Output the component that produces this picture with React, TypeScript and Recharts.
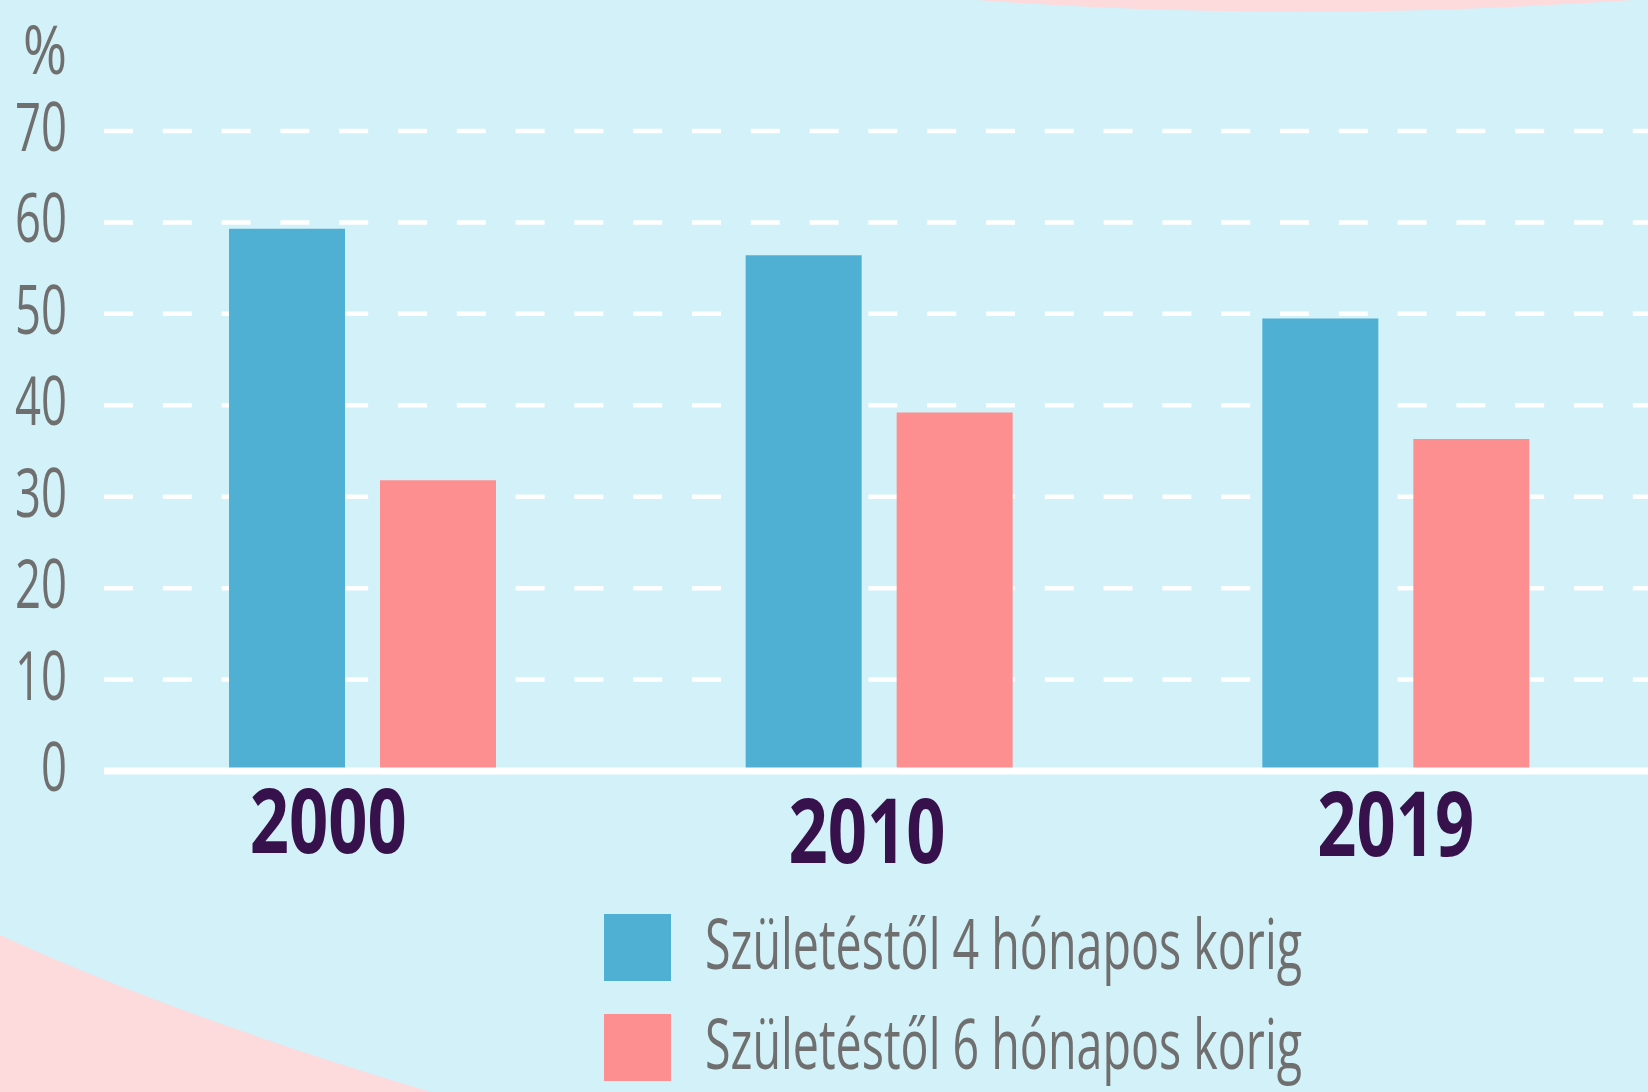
import { BarChart, Bar, XAxis, YAxis, CartesianGrid, Legend } from "recharts";

// breastfeeding share (%) by year
const years = ["2000", "2010", "2019"];
const fourMonths = [59.3, 56.4, 49.5];
const sixMonths = [31.8, 39.2, 36.3];
const yTicks = [0, 10, 20, 30, 40, 50, 60, 70];
const seriesNames = ["Születéstől 4 hónapos korig", "Születéstől 6 hónapos korig"];
const unitLabel = "%";

const data = years.map((year, i) => ({
  year,
  four: fourMonths[i],
  six: sixMonths[i],
}));

const FONT = '"Open Sans", "Noto Sans", "Liberation Sans", sans-serif';
const GREY = "#706f6f";
const BLUE = "#4fb0d4";
const PINK = "#fe8f90";
const BG = "#d2f1f8";
const DECOR = "#fddadb";

// the year labels in the original sit a little off the group centres
const yearNudge: Record<string, { dx: number; dy: number }> = {
  "2000": { dx: -34, dy: 82 },
  "2010": { dx: -12, dy: 92 },
  "2019": { dx: 0, dy: 85 },
};

const YearTick = (props: any) => {
  const { x, y, payload } = props;
  const n = yearNudge[payload.value] || { dx: 0, dy: 85 };
  return (
    <text
      x={x + n.dx}
      y={y + n.dy}
      textAnchor="middle"
      fill="#37114c"
      fontFamily={FONT}
      fontWeight={700}
      fontSize={90}
      textLength={157}
      lengthAdjust="spacingAndGlyphs"
    >
      {payload.value}
    </text>
  );
};

const ValueTick = (props: any) => {
  const { x, y, payload } = props;
  const label = String(payload.value);
  return (
    <text
      x={x - 37}
      y={y + 20}
      textAnchor="end"
      fill={GREY}
      fontFamily={FONT}
      fontSize={67}
      textLength={label.length * 26}
      lengthAdjust="spacingAndGlyphs"
    >
      {label}
    </text>
  );
};

const renderLegend = (props: any) => {
  const items = props.payload || [];
  return (
    <svg width={1048} height={192} style={{ display: "block", overflow: "visible" }}>
      {items.map((item: any, i: number) => (
        <g key={item.value}>
          <rect x={4} y={14 + i * 100} width={67} height={67} fill={item.color} />
          <text
            x={105}
            y={69 + i * 100}
            fill={GREY}
            fontFamily={FONT}
            fontSize={70}
            textLength={597}
            lengthAdjust="spacingAndGlyphs"
          >
            {item.value}
          </text>
        </g>
      ))}
    </svg>
  );
};

export default function App() {
  return (
    <div
      style={{
        position: "absolute",
        left: 0,
        top: 0,
        width: 1648,
        height: 1092,
        overflow: "hidden",
        background: BG,
      }}
    >
      <svg
        width={1648}
        height={1092}
        style={{ position: "absolute", left: 0, top: 0 }}
      >
        <path d="M977,0 Q1290,24 1648,-1 L1648,0 Z" fill={DECOR} />
        <path d="M0,935 Q176,1016 431,1092 L0,1092 Z" fill={DECOR} />
        <text
          x={67}
          y={74}
          textAnchor="end"
          fill={GREY}
          fontFamily={FONT}
          fontSize={67}
          textLength={44}
          lengthAdjust="spacingAndGlyphs"
        >
          {unitLabel}
        </text>
      </svg>
      <div style={{ position: "absolute", left: 0, top: 0 }}>
        <BarChart
          width={1660}
          height={1092}
          data={data}
          margin={{ top: 131, right: 6, bottom: 221, left: 0 }}
          barSize={116}
          barGap={35}
        >
          <CartesianGrid
            vertical={false}
            stroke="#ffffff"
            strokeWidth={4.5}
            strokeDasharray="29 29.8"
          />
          <XAxis
            dataKey="year"
            height={100}
            axisLine={{ stroke: "#ffffff", strokeWidth: 7 }}
            tickLine={false}
            tickSize={0}
            tickMargin={0}
            tick={<YearTick />}
            interval={0}
          />
          <YAxis
            width={104}
            domain={[0, 70]}
            ticks={yTicks}
            axisLine={false}
            tickLine={false}
            tickSize={0}
            tickMargin={0}
            tick={<ValueTick />}
          />
          <Legend
            layout="horizontal"
            verticalAlign="middle"
            align="center"
            content={renderLegend}
            wrapperStyle={{ position: "absolute", left: 600, top: 900, width: 1048 }}
          />
          <Bar dataKey="four" name={seriesNames[0]} fill={BLUE} isAnimationActive={false} />
          <Bar dataKey="six" name={seriesNames[1]} fill={PINK} isAnimationActive={false} />
        </BarChart>
      </div>
    </div>
  );
}
